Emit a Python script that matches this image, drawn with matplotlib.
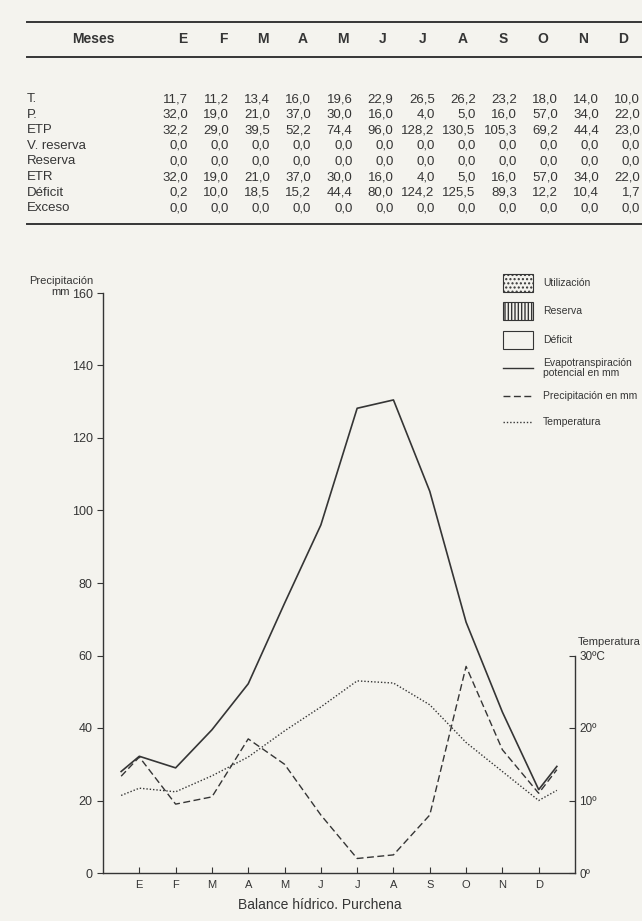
import matplotlib.pyplot as plt
from matplotlib.patches import Rectangle
from matplotlib.lines import Line2D

plt.rcParams['font.family'] = ['Liberation Sans', 'DejaVu Sans']

# table data
meses = ['E', 'F', 'M', 'A', 'M', 'J', 'J', 'A', 'S', 'O', 'N', 'D']
row_names = ['T.', 'P.', 'ETP', 'V. reserva', 'Reserva', 'ETR', 'Déficit', 'Exceso']
T = [11.7, 11.2, 13.4, 16.0, 19.6, 22.9, 26.5, 26.2, 23.2, 18.0, 14.0, 10.0]
P = [32.0, 19.0, 21.0, 37.0, 30.0, 16.0, 4.0, 5.0, 16.0, 57.0, 34.0, 22.0]
ETP = [32.2, 29.0, 39.5, 52.2, 74.4, 96.0, 128.2, 130.5, 105.3, 69.2, 44.4, 23.0]
V_reserva = [0.0] * 12
Reserva = [0.0] * 12
ETR = [32.0, 19.0, 21.0, 37.0, 30.0, 16.0, 4.0, 5.0, 16.0, 57.0, 34.0, 22.0]
Deficit = [0.2, 10.0, 18.5, 15.2, 44.4, 80.0, 124.2, 125.5, 89.3, 12.2, 10.4, 1.7]
Exceso = [0.0] * 12
rows = [T, P, ETP, V_reserva, Reserva, ETR, Deficit, Exceso]

# half-month end points of the curves
ETP_ends = [28.0, 29.4]
P_ends = [26.7, 28.5]
T_ends = [10.7, 11.4]

W, H = 642, 921
ink = '#353535'
paper = '#f4f3ee'

fig = plt.figure(figsize=(W / 100, H / 100), dpi=100, facecolor=paper)


def fx(px):
    return px / W


def fy(py):
    return 1 - py / H


def comma(v):
    return f'{v:.1f}'.replace('.', ',')


# ---- table ----
for y in (22, 57, 224):
    fig.add_artist(Line2D([fx(27), 1.0], [fy(y), fy(y)], color=ink, lw=1.4))

fig.text(fx(93), fy(39), 'Meses', ha='center', va='center', fontsize=10, fontweight='bold', color=ink)
for i, m in enumerate(meses):
    fig.text(fx(183 + i * 40.0), fy(39), m, ha='center', va='center', fontsize=10,
             fontweight='bold', color=ink)

row_y0, row_dy = 99, 15.6
for r, (name, vals) in enumerate(zip(row_names, rows)):
    y = row_y0 + r * row_dy
    fig.text(fx(27), fy(y), name, ha='left', va='center', fontsize=9.5, color=ink)
    for i, v in enumerate(vals):
        fig.text(fx(188 + i * 41.1), fy(y), comma(v), ha='right', va='center', fontsize=9.5, color=ink)

# ---- chart ----
ax = fig.add_axes([fx(103), fy(873), fx(575) - fx(103), fy(293) - fy(873)])
ax.set_facecolor('none')
xm = list(range(1, 13))
xs = [0.5] + xm + [12.5]

ax.plot(xs, [ETP_ends[0]] + ETP + [ETP_ends[1]], color=ink, lw=1.2)
ax.plot(xs, [P_ends[0]] + P + [P_ends[1]], color=ink, lw=1.0, dashes=(5, 2.5))

ax.set_xlim(0, 13)
ax.set_ylim(0, 160)
ax.set_yticks(range(0, 161, 20))
ax.set_xticks(xm)
ax.set_xticklabels(meses, fontsize=8, color=ink)
ax.tick_params(axis='x', direction='in', length=4, color=ink, pad=5)
ax.tick_params(axis='y', direction='out', length=4, color=ink, labelsize=9, labelcolor=ink)
for s in ('top', 'right'):
    ax.spines[s].set_visible(False)
for s in ('left', 'bottom'):
    ax.spines[s].set_color(ink)
    ax.spines[s].set_linewidth(1.0)

ax2 = ax.twinx()
ax2.plot(xs, [T_ends[0]] + T + [T_ends[1]], color=ink, lw=1.0, linestyle=(0, (1, 1.4)))
ax2.set_ylim(0, 80)
ax2.set_yticks([0, 10, 20, 30])
ax2.set_yticklabels(['0º', '10º', '20º', '30ºC'], fontsize=8.5, color=ink)
ax2.tick_params(axis='y', direction='in', length=4, color=ink, pad=3)
for s in ('top', 'left', 'bottom'):
    ax2.spines[s].set_visible(False)
ax2.spines['right'].set_bounds(0, 30)
ax2.spines['right'].set_color(ink)
ax2.spines['right'].set_linewidth(1.0)

# axis titles
fig.text(fx(93), fy(281), 'Precipitación', ha='right', va='center', fontsize=8, color=ink)
fig.text(fx(70), fy(292), 'mm', ha='right', va='center', fontsize=8, color=ink)
fig.text(fx(578), fy(642), 'Temperatura', ha='left', va='center', fontsize=8, color=ink)

# ---- legend ----
bx0, bx1 = 503, 533
boxes = [(283, 'Utilización', '....'), (311, 'Reserva', '|||||'), (340, 'Déficit', None)]
for yc, label, hatch in boxes:
    rect = Rectangle((fx(bx0), fy(yc + 9)), fx(bx1) - fx(bx0), fy(yc - 9) - fy(yc + 9),
                     transform=fig.transFigure, facecolor='none', edgecolor=ink, lw=0.8,
                     hatch=hatch)
    fig.add_artist(rect)
    fig.text(fx(543), fy(yc), label, ha='left', va='center', fontsize=7.5, color=ink)

legend_lines = [(368, 'Evapotranspiración\npotencial en mm', dict(linestyle='-')),
                (396, 'Precipitación en mm', dict(dashes=(5, 2.5))),
                (422, 'Temperatura', dict(linestyle=(0, (1, 1.4))))]
for yc, label, style in legend_lines:
    fig.add_artist(Line2D([fx(bx0), fx(bx1)], [fy(yc), fy(yc)], color=ink, lw=1.0, **style))
    fig.text(fx(543), fy(yc), label, ha='left', va='center', fontsize=7.5, color=ink,
             linespacing=0.95)

fig.text(fx(320), fy(905), 'Balance hídrico. Purchena', ha='center', va='center',
         fontsize=10, color=ink)

fig.savefig('out.png', dpi=100, facecolor=paper)
